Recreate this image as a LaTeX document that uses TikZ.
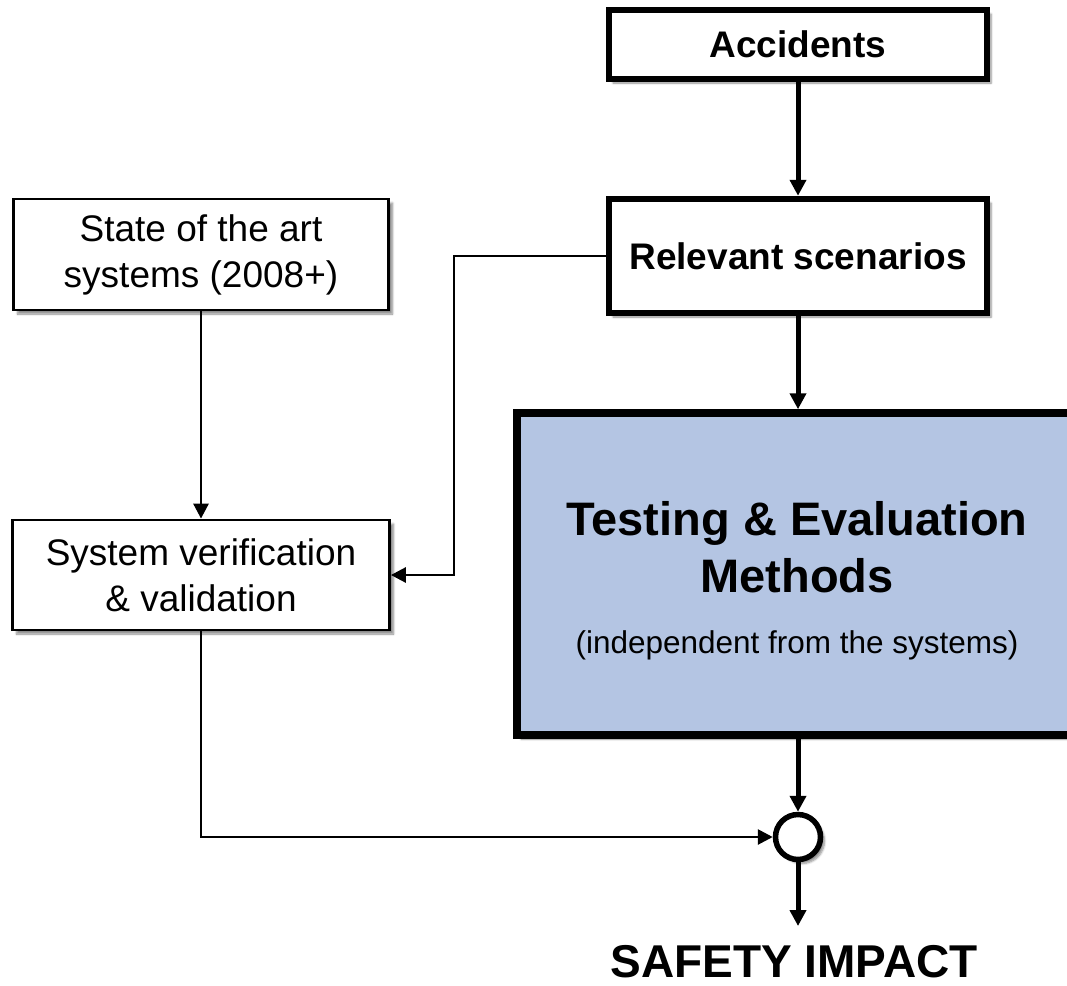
\documentclass[tikz,border=0pt]{standalone}
\usepackage{fontspec}
\setmainfont{Liberation Sans}
\usetikzlibrary{arrows.meta,shadows.blur}
\definecolor{testblue}{RGB}{180,197,227}
\tikzset{
  shad/.style={blur shadow={shadow xshift=4pt, shadow yshift=-4pt, shadow blur steps=6, shadow opacity=45}},
  boldbox/.style={draw=black, line width=6.5pt, fill=white, inner sep=0pt, minimum width=378pt,
    font=\fontsize{37}{45}\selectfont\bfseries, shad},
  thinbox/.style={draw=black, line width=2.8pt, fill=white, inner sep=0pt, align=center,
    font=\fontsize{37}{46}\selectfont, shad},
  testbox/.style={draw=black, line width=7.5pt, fill=testblue, inner sep=0pt, shad},
  junction/.style={circle, draw=black, line width=5.5pt, fill=white, inner sep=0pt, minimum size=45pt, shad},
  thickarrow/.style={line width=5pt, -{Triangle[length=16pt,width=16pt]}},
  thinarrow/.style={line width=2.8pt, -{Triangle[length=15pt,width=15pt]}},
  bigtitle/.style={font=\fontsize{47}{57}\selectfont\bfseries, inner sep=0pt, anchor=base},
}
\begin{document}
\begin{tikzpicture}[x=1pt,y=-1pt]
\useasboundingbox (0,0) rectangle (1067,985);
\clip (0,0) rectangle (1067,985);
% boxes
\node[boldbox, minimum height=69pt] (acc) at (798,44.5) {Accidents};
\node[boldbox, minimum height=114pt] (rel) at (798,256) {Relevant scenarios};
\node[thinbox, minimum width=375pt, minimum height=111pt] (state) at (201,254.5) {State of the art\\systems (2008+)};
\node[thinbox, minimum width=377pt, minimum height=110pt] (sys) at (201,575) {System verification\\\& validation};
\node[testbox, minimum width=562pt, minimum height=322pt] (test) at (798,574) {};
\node[bigtitle] (ttl1) at (797,535) {Testing \& Evaluation};
\node[bigtitle] (ttl2) at (797,592) {Methods};
\node[font=\fontsize{31.5}{38}\selectfont, inner sep=0pt, anchor=base] (tsub) at (797,653) {(independent from the systems)};
\node[junction] (circ) at (798,837) {};
\coordinate (out) at (798,926);
\node[font=\fontsize{46}{56}\selectfont\bfseries, inner sep=0pt, anchor=base] (safety) at (794,977) {SAFETY IMPACT};
\coordinate (bend) at (454,0);
% connectors
\draw[thickarrow] (acc) -- (rel);
\draw[thickarrow] (rel) -- (test);
\draw[thickarrow] (test.south) -- (circ.north);
\draw[thickarrow] (circ.south) -- (out);
\draw[thinarrow] (state) -- (sys);
\draw[thinarrow] (rel.west) -| (bend |- sys.east) -- (sys.east);
\draw[thinarrow] (sys.south) |- (circ.west);
\end{tikzpicture}
\end{document}
